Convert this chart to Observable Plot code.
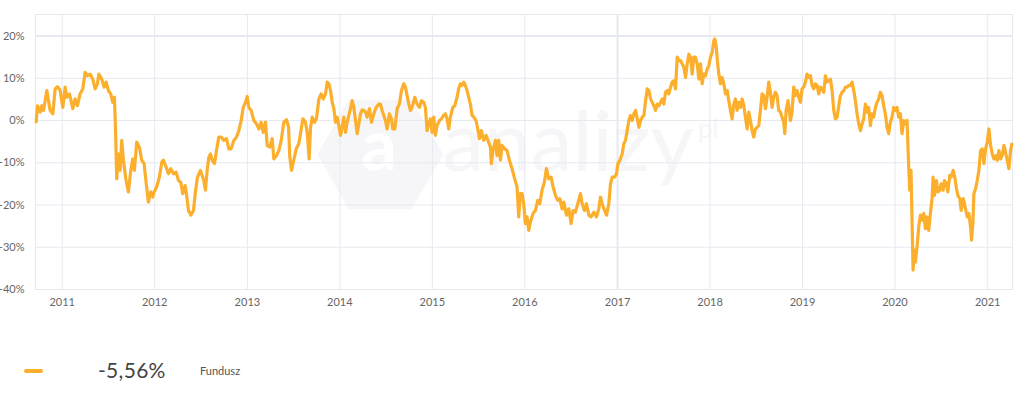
<!DOCTYPE html>
<html>
<head>
<meta charset="utf-8">
<script src="https://cdn.jsdelivr.net/npm/d3@7"></script>
<script src="https://cdn.jsdelivr.net/npm/@observablehq/plot@0.6"></script>
<style>
  html, body { margin: 0; padding: 0; background: #fff; }
  #wrap { position: relative; width: 1032px; height: 396px; font-family: Lato, "Open Sans", sans-serif; }
  #legend { position: absolute; left: 0; top: 356px; width: 1032px; height: 30px; }
  #legend .sw { position: absolute; left: 24px; top: 13px; width: 19px; height: 4px; border-radius: 2px; background: #fcaf2c; }
  #legend .val { position: absolute; left: 98px; top: 1px; font-size: 21px; color: #444; letter-spacing: 0.3px; }
  #legend .name { position: absolute; left: 200px; top: 8px; font-size: 11px; color: #555; }
</style>
</head>
<body>
<div id="wrap">
  <div id="chart"></div>
  <div id="legend"><span class="sw"></span><span class="val" id="lv"></span><span class="name" id="ln"></span></div>
</div>
<script>
// decimal years
const years = [
2010.719,2010.733,2010.762,2010.780,2010.798,2010.834,2010.852,2010.870,2010.899,2010.924,2010.949,2010.978,
2011.007,2011.032,2011.050,2011.079,2011.115,2011.140,2011.165,2011.194,2011.223,2011.248,2011.273,2011.302,
2011.331,2011.356,2011.381,2011.396,2011.428,2011.453,2011.475,2011.500,2011.525,2011.547,2011.565,2011.576,
2011.590,2011.608,2011.626,2011.644,2011.662,2011.691,2011.716,2011.742,2011.763,2011.781,2011.806,2011.835,
2011.860,2011.886,2011.907,2011.932,2011.958,2011.979,2011.994,2012.022,2012.051,2012.077,2012.095,2012.123,
2012.149,2012.174,2012.203,2012.231,2012.257,2012.282,2012.303,2012.329,2012.347,2012.365,2012.390,2012.419,
2012.437,2012.462,
2012.494,2012.512,2012.530,2012.548,2012.566,2012.584,2012.602,2012.620,2012.645,2012.667,2012.692,2012.717,
2012.746,2012.775,2012.800,2012.825,2012.854,2012.883,2012.908,2012.933,2012.955,2012.980,2012.998,2013.016,
2013.041,2013.070,2013.099,2013.124,2013.149,2013.171,2013.196,2013.214,2013.243,2013.268,2013.286,2013.315,
2013.340,2013.366,2013.394,2013.423,2013.445,2013.459,2013.477,2013.502,2013.528,2013.556,2013.574,2013.600,
2013.628,2013.647,2013.668,2013.683,2013.701,2013.726,2013.747,2013.773,2013.798,2013.820,2013.845,2013.863,
2013.881,2013.899,2013.917,2013.935,2013.953,2013.971,2013.989,2014.007,2014.025,2014.043,2014.061,2014.079,
2014.097,2014.115,2014.133,2014.151,2014.169,2014.187,2014.205,2014.223,2014.241,2014.259,
2014.277,2014.295,2014.320,2014.342,2014.367,2014.392,2014.421,2014.439,2014.457,2014.475,2014.493,2014.511,
2014.536,2014.558,2014.572,2014.594,2014.619,2014.644,2014.666,2014.691,2014.709,2014.727,2014.745,2014.763,
2014.781,2014.810,2014.835,2014.860,2014.882,2014.907,2014.925,2014.943,2014.961,2014.979,2014.997,2015.015,
2015.033,2015.051,2015.077,2015.098,2015.123,2015.141,2015.159,2015.177,2015.195,2015.221,2015.242,2015.267,
2015.285,2015.303,2015.321,2015.339,2015.357,2015.375,2015.393,2015.411,2015.430,2015.448,2015.473,2015.494,
2015.509,2015.530,2015.556,2015.581,2015.602,2015.628,2015.638,2015.656,2015.682,2015.700,2015.718,2015.736,
2015.754,2015.782,2015.808,2015.833,2015.862,2015.890,2015.916,2015.934,2015.952,2015.970,2015.988,2016.006,
2016.024,2016.042,
2016.060,2016.089,2016.114,2016.139,2016.161,2016.186,2016.211,2016.233,2016.258,2016.283,2016.305,2016.330,
2016.355,2016.377,2016.402,2016.420,2016.449,2016.474,2016.499,2016.521,2016.546,2016.571,2016.600,2016.618,
2016.643,2016.665,2016.690,2016.716,2016.744,2016.773,2016.798,2016.816,2016.834,2016.860,2016.881,2016.906,
2016.924,2016.942,2016.968,2016.989,2017.004,2017.025,2017.050,2017.068,2017.086,2017.104,2017.122,2017.140,
2017.158,2017.177,2017.195,2017.213,2017.231,2017.249,2017.267,2017.285,2017.303,2017.321,2017.339,2017.357,
2017.375,2017.393,2017.411,2017.429,2017.447,2017.465,2017.483,2017.501,2017.519,2017.537,2017.555,2017.573,
2017.591,2017.609,2017.627,2017.645,2017.663,2017.681,2017.699,2017.717,2017.735,2017.753,2017.771,2017.789,
2017.807,2017.825,
2017.843,2017.861,2017.879,2017.897,2017.915,2017.933,2017.951,2017.969,2017.987,2018.005,2018.023,2018.041,
2018.052,2018.066,2018.081,2018.095,2018.113,2018.131,2018.149,2018.167,2018.185,2018.203,2018.221,2018.239,
2018.257,2018.275,2018.293,2018.311,2018.329,2018.347,2018.365,2018.383,2018.401,2018.419,2018.437,2018.455,
2018.473,2018.491,2018.509,2018.527,2018.545,2018.563,2018.581,2018.599,2018.617,2018.635,2018.653,2018.671,
2018.689,2018.707,2018.725,2018.743,2018.761,2018.779,2018.797,2018.808,2018.823,2018.844,2018.869,2018.887,
2018.905,2018.923,2018.941,2018.959,2018.977,2018.995,2019.013,2019.031,2019.049,2019.068,2019.086,2019.104,
2019.122,2019.140,2019.158,2019.176,2019.194,2019.212,2019.230,2019.248,2019.266,2019.284,2019.302,2019.320,
2019.338,2019.356,2019.374,2019.392,2019.410,2019.428,2019.446,2019.464,2019.482,2019.500,2019.518,2019.536,
2019.554,2019.572,2019.590,2019.608,
2019.626,2019.644,2019.662,2019.680,2019.698,2019.716,2019.734,2019.752,2019.770,2019.788,2019.806,2019.824,
2019.842,2019.860,2019.878,2019.896,2019.914,2019.932,2019.950,2019.968,2019.986,2020.004,2020.022,2020.040,
2020.058,2020.076,2020.094,2020.112,2020.130,2020.148,2020.159,2020.173,2020.184,2020.195,2020.209,2020.220,
2020.238,2020.256,2020.274,2020.292,2020.310,2020.328,2020.346,2020.364,2020.382,2020.400,2020.411,2020.426,
2020.447,2020.462,2020.483,2020.498,2020.519,2020.534,2020.555,2020.570,2020.591,2020.606,2020.627,2020.645,
2020.663,2020.678,2020.699,2020.714,2020.735,2020.750,2020.764,2020.779,2020.797,2020.815,2020.825,2020.840,
2020.851,2020.869,2020.887,2020.905,2020.923,2020.941,2020.959,2020.977,2020.995,2021.013,2021.031,2021.049,
2021.067,2021.085,2021.103,2021.121,2021.139,2021.157,2021.175,2021.193,2021.211,2021.229,2021.247,2021.261
];
// fund return in %
const values = [
-0.3,3.5,2.0,3.5,2.4,7.1,4.7,2.4,1.6,7.5,8.0,7.1,
3.1,7.9,5.5,6.3,2.8,5.1,3.5,6.3,7.5,11.4,10.6,11.0,
9.8,7.5,8.7,11.0,9.8,7.9,9.1,7.1,6.3,4.3,5.5,-1.6,
-13.8,-7.9,-11.8,-4.7,-9.4,-14.2,-16.9,-11.8,-9.1,-11.8,-5.1,-6.3,
-9.4,-10.2,-14.6,-19.3,-16.9,-18.1,-16.9,-15.7,-13.4,-9.8,-9.4,-11.0,
-12.6,-11.4,-12.6,-12.2,-14.2,-14.6,-17.3,-15.4,-18.1,-21.3,-22.4,-21.3,
-17.3,-13.4,
-11.8,-13.0,-14.2,-16.5,-11.8,-8.7,-7.9,-9.4,-10.2,-7.1,-3.9,-3.9,
-4.7,-4.3,-6.7,-6.7,-4.7,-3.9,-2.4,0,3.1,4.3,5.7,3.1,
2.4,0,-0.8,-2.0,-0.4,-2.8,-0.4,-5.9,-6.3,-4.3,-9.1,-8.3,
-7.1,-4.7,-0.4,0.2,-1.6,-8.7,-11.8,-9.4,-6.7,-5.5,-3.1,0.4,
-0.4,-2.8,-9.1,-1.6,0.8,-0.4,0.4,5.1,6.3,5.1,6.3,9.1,
8.7,7.1,4.3,2.8,-0.4,0.8,-1.2,-3.5,-1.6,0.8,-2.8,-0.4,
1.2,2.8,4.7,3.1,0,-3.1,-0.8,1.6,2.5,2.4,
2.0,0.8,2.8,-0.4,1.6,3.1,3.9,3.9,2.4,1.2,0,-2.0,
1.6,0.4,-2.0,-2.0,2.8,3.9,7.1,8.7,7.9,5.9,3.9,2.4,
3.1,5.5,3.9,3.1,4.7,4.3,3.1,-2.4,-0.8,0.4,-2.8,0.8,
-3.5,-1.2,0,0.4,1.2,1.6,0.4,-2.0,0.8,3.1,3.5,5.5,
7.5,8.7,8.3,9.1,8.3,7.1,5.5,3.9,1.2,0.8,0,-2.4,
-4.3,-2.4,-4.7,-3.5,-4.7,-6.3,-10.2,-7.1,-4.7,-8.3,-4.7,-9.4,
-5.9,-6.7,-7.1,-9.4,-11.4,-13.8,-15.7,-22.8,-17.3,-17.3,-19.7,-24.4,
-22.8,-26.0,
-24.0,-22.0,-21.3,-18.9,-19.7,-16.5,-14.6,-11.4,-13.8,-13.4,-15.7,-17.7,
-18.9,-18.5,-20.9,-19.3,-22.4,-20.9,-24.4,-21.3,-21.7,-19.7,-17.3,-19.7,
-21.3,-19.7,-22.4,-22.8,-21.7,-22.8,-20.9,-18.1,-19.7,-21.3,-22.4,-19.7,
-15.0,-13.4,-13.4,-12.6,-10.2,-9.4,-7.9,-5.5,-4.7,-2.4,0,1.2,
0,1.6,2.4,0.4,-1.6,0,0.8,1.2,4.7,7.5,7.1,5.1,
4.3,3.5,2.4,3.9,3.5,4.3,5.1,3.9,6.7,7.1,6.3,7.9,
9.1,9.4,7.5,15.0,14.2,14.2,13.4,12.6,10.2,13.4,15.7,15.0,
11.0,15.0,
15.0,13.4,9.8,13.4,8.7,11.0,10.6,12.2,13.0,15.0,16.1,18.9,
19.3,17.7,13.8,11.0,8.7,10.2,8.7,6.3,7.1,4.7,2.4,0.4,
3.9,5.1,2.4,4.3,3.1,5.1,3.5,0.8,-2.0,2.0,0,-2.4,
-3.9,-2.0,-1.6,-1.2,2.4,6.3,5.9,2.8,5.5,9.1,6.7,3.1,
5.5,6.7,5.9,2.4,2.0,0.8,-0.4,-3.1,2.4,4.7,0,2.0,
7.9,5.9,7.1,5.5,4.3,7.5,7.9,9.1,11.0,10.2,10.6,8.3,
7.5,8.7,8.3,6.3,7.9,7.5,6.7,10.6,9.1,9.4,9.8,7.1,
2.4,0.4,0.8,3.5,5.9,6.7,7.1,7.9,7.9,8.3,8.3,9.1,
7.1,4.7,1.6,-0.8,
-2.4,-0.8,0.4,3.9,2.0,3.1,-1.2,1.6,0.8,3.1,4.3,5.1,
6.7,5.9,3.5,1.6,-1.6,-3.1,-0.4,0.8,3.1,2.4,3.1,0.8,
1.6,-3.1,0,-0.8,0,-11.0,-16.5,-11.8,-23.6,-35.4,-30.7,-33.5,
-29.9,-25.2,-22.4,-23.6,-22.0,-25.6,-22.8,-26.0,-22.0,-18.5,-13.4,-17.7,
-14.2,-16.9,-16.5,-15.0,-16.5,-14.2,-15.0,-16.9,-13.0,-13.4,-11.8,-13.4,
-16.1,-17.7,-18.5,-21.3,-18.5,-19.7,-21.3,-22.8,-22.0,-25.2,-28.3,-24.4,
-17.3,-16.1,-14.2,-11.8,-7.1,-6.7,-10.2,-6.7,-5.1,-2.0,-5.9,-7.9,
-9.1,-8.3,-9.4,-7.1,-9.1,-8.3,-5.9,-7.5,-9.4,-11.4,-7.1,-5.56
];
const yearTicks = [2011,2012,2013,2014,2015,2016,2017,2018,2019,2020,2021];
const yTicks = [-40,-30,-20,-10,0,10,20];
const highlightY = [20];
const highlightX = [2017];
const xRange = [2010.7115, 2021.268];
const yRange = [-40, 25.1];
const seriesName = "Fundusz";
const lastValueLabel = "-5,56%";

function toDate(y) {
  const yr = Math.floor(y);
  const a = new Date(yr, 0, 1), b = new Date(yr + 1, 0, 1);
  return new Date(+a + (y - yr) * (b - a));
}

const data = years.map((y, i) => ({date: toDate(y), value: values[i]}));
const yearDates = yearTicks.map(y => new Date(y, 0, 1));
const grid = "#e6e9f0";
const watermark = "#f6f6f8";

const chart = Plot.plot({
  width: 1032,
  height: 320,
  marginLeft: 35,
  marginRight: 20,
  marginTop: 14,
  marginBottom: 31,
  style: {fontFamily: "Lato, 'Open Sans', sans-serif", fontSize: "11px", color: "#666", background: "#fff"},
  x: {type: "time", domain: xRange.map(toDate), ticks: yearDates, tickFormat: d3.timeFormat("%Y"), tickSize: 0, tickPadding: 9, label: null},
  y: {domain: yRange, ticks: yTicks, tickFormat: d => d + "%", tickSize: 0, tickPadding: 11, label: null},
  marks: [
    Plot.text(["\u2B22"], {frameAnchor: "middle", dx: -145, dy: 2, fontSize: 150, fill: watermark, textAnchor: "middle", rotate: 90}),
    Plot.text(["a"], {frameAnchor: "middle", dx: -145, dy: -4, fontSize: 70, fontWeight: 700, fill: "#fff", textAnchor: "middle"}),
    Plot.text(["analizy"], {frameAnchor: "middle", dx: 44, dy: -8, fontSize: 84, fontWeight: 400, fill: watermark, textAnchor: "middle"}),
    Plot.text(["pl"], {frameAnchor: "middle", dx: 184, dy: -22, fontSize: 26, fontWeight: 400, fill: watermark}),
    Plot.gridY(yTicks, {stroke: grid, strokeOpacity: 1}),
    Plot.gridX(yearDates, {stroke: grid, strokeOpacity: 1}),
    Plot.frame({stroke: grid, strokeOpacity: 1}),
    Plot.ruleY(highlightY, {stroke: grid, strokeWidth: 2}),
    Plot.ruleX(highlightX.map(y => new Date(y, 0, 1)), {stroke: grid, strokeWidth: 2}),
    Plot.line(data, {x: "date", y: "value", stroke: "#fcaf2c", strokeWidth: 3.2, strokeLinejoin: "round", strokeLinecap: "round"})
  ]
});
document.getElementById("chart").appendChild(chart);
document.getElementById("lv").textContent = lastValueLabel;
document.getElementById("ln").textContent = seriesName;
</script>
</body>
</html>
